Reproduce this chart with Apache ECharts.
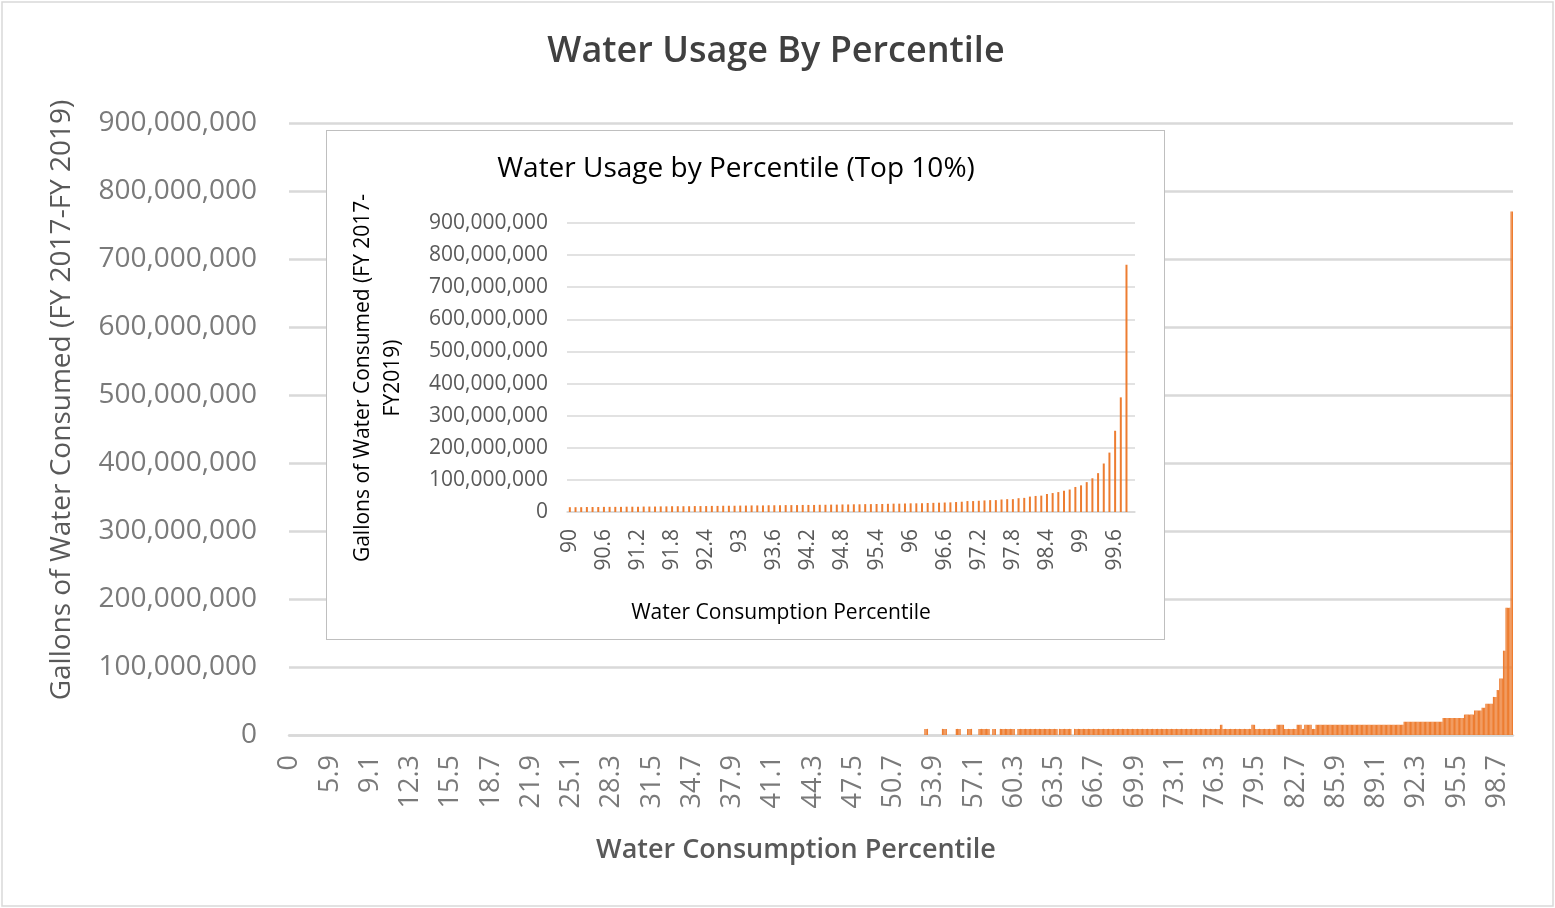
<!DOCTYPE html>
<html>
<head>
<meta charset="utf-8">
<script src="https://cdn.jsdelivr.net/npm/echarts@6/dist/echarts.min.js"></script>
<style>
  html, body { margin: 0; padding: 0; background: #fff; }
  #main { position: absolute; left: 0; top: 0; width: 1555px; height: 908px; }
  #inset { position: absolute; left: 326px; top: 130px; width: 839px; height: 510px;
           background: #fff; border: 1px solid #bfbfbf; box-sizing: border-box; }
</style>
</head>
<body>
<div id="main"></div>
<div id="inset"></div>
<script>
// ---------- DATA ----------
// Main chart categories: 0, then 2.8 ... 99.9 (step 0.1)
const mainCategories = ['0'];
for (let k = 28; k <= 999; k++) mainCategories.push(String(k / 10));

// Main chart values, millions of gallons (one per category)
const mainValuesM = [
0,0,0,0,0,0,0,0,0,0,0,0,0,0,0,0,0,0,0,0,
0,0,0,0,0,0,0,0,0,0,0,0,0,0,0,0,0,0,0,0,
0,0,0,0,0,0,0,0,0,0,0,0,0,0,0,0,0,0,0,0,
0,0,0,0,0,0,0,0,0,0,0,0,0,0,0,0,0,0,0,0,
0,0,0,0,0,0,0,0,0,0,0,0,0,0,0,0,0,0,0,0,
0,0,0,0,0,0,0,0,0,0,0,0,0,0,0,0,0,0,0,0,
0,0,0,0,0,0,0,0,0,0,0,0,0,0,0,0,0,0,0,0,
0,0,0,0,0,0,0,0,0,0,0,0,0,0,0,0,0,0,0,0,
0,0,0,0,0,0,0,0,0,0,0,0,0,0,0,0,0,0,0,0,
0,0,0,0,0,0,0,0,0,0,0,0,0,0,0,0,0,0,0,0,
0,0,0,0,0,0,0,0,0,0,0,0,0,0,0,0,0,0,0,0,
0,0,0,0,0,0,0,0,0,0,0,0,0,0,0,0,0,0,0,0,
0,0,0,0,0,0,0,0,0,0,0,0,0,0,0,0,0,0,0,0,
0,0,0,0,0,0,0,0,0,0,0,0,0,0,0,0,0,0,0,0,
0,0,0,0,0,0,0,0,0,0,0,0,0,0,0,0,0,0,0,0,
0,0,0,0,0,0,0,0,0,0,0,0,0,0,0,0,0,0,0,0,
0,0,0,0,0,0,0,0,0,0,0,0,0,0,0,0,0,0,0,0,
0,0,0,0,0,0,0,0,0,0,0,0,0,0,0,0,0,0,0,0,
0,0,0,0,0,0,0,0,0,0,0,0,0,0,0,0,0,0,0,0,
0,0,0,0,0,0,0,0,0,0,0,0,0,0,0,0,0,0,0,0,
0,0,0,0,0,0,0,0,0,0,0,0,0,0,0,0,0,0,0,0,
0,0,0,0,0,0,0,0,0,0,0,0,0,0,0,0,0,0,0,0,
0,0,0,0,0,0,0,0,0,0,0,0,0,0,0,0,0,0,0,0,
0,0,0,0,0,0,0,0,0,0,0,0,0,0,0,0,0,0,0,0,
0,0,0,0,0,0,0,0,0,0,0,0,0,0,0,0,0,0,0,0,
0,0,0,0,0,9,9,9,0,0,0,0,0,0,0,0,0,0,0,9,
9,9,9,0,0,0,0,0,0,0,9,9,9,9,0,0,0,0,0,9,
9,9,9,0,0,0,0,0,9,9,9,9,9,9,9,9,9,0,0,9,
9,9,0,0,0,9,9,9,9,9,9,9,9,9,9,9,9,0,0,9,
9,9,9,9,9,9,9,9,9,9,9,9,9,9,9,9,9,9,9,9,
9,9,9,9,9,9,9,9,9,9,9,0,9,9,9,9,9,9,9,9,
9,9,0,0,9,9,9,9,9,9,9,9,9,9,9,9,9,9,9,9,
9,9,9,9,9,9,9,9,9,9,9,9,9,9,9,9,9,9,9,9,
9,9,9,9,9,9,9,9,9,9,9,9,9,9,9,9,9,9,9,9,
9,9,9,9,9,9,9,9,9,9,9,9,9,9,9,9,9,9,9,9,
9,9,9,9,9,9,9,9,9,9,9,9,9,9,9,9,9,9,9,9,
9,9,9,9,9,9,9,9,9,9,9,9,9,9,9,9,9,9,9,9,
15,15,9,9,9,9,9,9,9,9,9,9,9,9,9,9,9,9,9,9,
9,9,9,9,9,15,15,15,9,9,9,9,9,9,9,9,9,9,9,9,
9,9,9,9,9,15,15,15,15,15,15,9,9,9,9,9,9,9,9,9,
9,15,15,15,15,9,9,15,15,15,15,15,15,9,9,9,15,15,15,15,
15,15,15,15,15,15,15,15,15,15,15,15,15,15,15,15,15,15,15,15,
15,15,15,15,15,15,15,15,15,15,15,15,15,15,15,15,15,15,15,15,
15,15,15,15,15,15,15,15,15,15,15,15,15,15,15,15,15,15,15,15,
15,15,15,15,15,15,19.5,19.5,19.5,19.5,19.5,19.5,19.5,19.5,19.5,19.5,19.5,19.5,19.5,19.5,
19.5,19.5,19.5,19.5,19.5,19.5,19.5,19.5,19.5,19.5,19.5,19.5,19.5,19.5,19.5,19.5,19.5,25,25,25,
25,25,25,25,25,25,25,25,25,25,25,25,25,25,30,30,30,30,30,30,
30,30,36,36,36,36,36,36,40,40,40,46,46,46,46,46,46,56,56,56,
66,66,83,83,83,124,124,187,187,187,187,770,770
];

// Inset categories: 90.0 ... 99.9
const insetCategories = [];
for (let k = 900; k <= 999; k++) insetCategories.push(String(k / 10));

// Inset values, millions of gallons
const insetValuesM = [
15,15,15,15.5,15.5,15.5,16,16,16,16,
16.5,16.5,16.5,17,17,17,17.5,17.5,18,18,
18,18,18.5,18.5,18.5,19,19,19.5,19.5,19.5,
20,20,20.5,20.5,20.5,21,21,21,21.5,21.5,
21.5,22,22,22,22.5,22.5,23,23,23.5,23.5,
24,24,24.5,24.5,25,25,25.5,26,26,26.5,
27,27,27.5,28,28.5,29,29.5,30,31,32,
34,34,35,36,37,37,39,40,40,43,
44,48,50,51,56,59,62,66,70,78,
83,93,105,121,151,185,253,357,770,0
];

// Y tick values (millions)
const yTicksM = { min: 0, max: 900, interval: 100 };

const mainTitle = 'Water Usage By Percentile';
const insetTitle = 'Water Usage by Percentile (Top 10%)';
const xName = 'Water Consumption Percentile';
const mainYName = 'Gallons of Water Consumed (FY 2017-FY 2019)';
const insetYName = 'Gallons of Water Consumed (FY 2017-\nFY2019)';

// ---------- RENDER ----------
const FONT = '"Open Sans", "Noto Sans", sans-serif';
const ORANGE = '#ED7D31';
const fmt = v => v === 0 ? '0' : (v * 1e6).toLocaleString('en-US');

const main = echarts.init(document.getElementById('main'), null, { renderer: 'canvas' });
main.setOption({
  animation: false,
  grid: { left: 289, right: 42, top: 123, bottom: 173, containLabel: false },
  xAxis: {
    type: 'category', data: mainCategories,
    axisLine: { show: true, lineStyle: { color: '#d9d9d9', width: 2.5 } },
    axisTick: { show: false },
    axisLabel: { interval: 31, rotate: 90, margin: 20, color: '#7a7a7a', fontSize: 27, fontFamily: FONT }
  },
  yAxis: {
    type: 'value', min: yTicksM.min, max: yTicksM.max, interval: yTicksM.interval,
    axisLine: { show: false }, axisTick: { show: false },
    splitLine: { lineStyle: { color: '#d9d9d9', width: 2.5 } },
    axisLabel: { formatter: fmt, margin: 32, color: '#7a7a7a', fontSize: 28, fontFamily: FONT }
  },
  series: [{
    type: 'bar', data: mainValuesM, barCategoryGap: '0%', barGap: '0%',
    itemStyle: { color: ORANGE }
  }],
  graphic: [
    { type: 'rect', shape: { x: 2, y: 2, width: 1551, height: 904 },
      style: { fill: 'none', stroke: '#d9d9d9', lineWidth: 1.5 }, silent: true },
    { type: 'text', x: 776, y: 52,
      style: { text: mainTitle, font: '600 36px ' + FONT, fill: '#404040', textAlign: 'center', textVerticalAlign: 'middle' } },
    { type: 'text', x: 796, y: 850,
      style: { text: xName, font: '600 27px ' + FONT, fill: '#595959', textAlign: 'center', textVerticalAlign: 'middle' } },
    { type: 'text', x: 62, y: 400, rotation: Math.PI / 2,
      style: { text: mainYName, font: '28px ' + FONT, fill: '#595959', textAlign: 'center', textVerticalAlign: 'middle' } }
  ]
});

const inset = echarts.init(document.getElementById('inset'), null, { renderer: 'canvas' });
inset.setOption({
  animation: false,
  grid: { left: 240, right: 29, top: 92, bottom: 127, containLabel: false },
  xAxis: {
    type: 'category', data: insetCategories,
    axisLine: { show: true, lineStyle: { color: '#d9d9d9', width: 1.5 } },
    axisTick: { show: false },
    axisLabel: { interval: 5, rotate: 90, margin: 17, color: '#595959', fontSize: 21, fontFamily: FONT }
  },
  yAxis: {
    type: 'value', min: yTicksM.min, max: yTicksM.max, interval: yTicksM.interval,
    axisLine: { show: false }, axisTick: { show: false },
    splitLine: { lineStyle: { color: '#d9d9d9', width: 1.5 } },
    axisLabel: { formatter: fmt, margin: 19, color: '#595959', fontSize: 21, fontFamily: FONT }
  },
  series: [{
    type: 'bar', data: insetValuesM, barWidth: 2,
    itemStyle: { color: ORANGE }
  }],
  graphic: [
    { type: 'text', x: 409, y: 38,
      style: { text: insetTitle, font: '28px ' + FONT, fill: '#000000', textAlign: 'center', textVerticalAlign: 'middle' } },
    { type: 'text', x: 454, y: 482,
      style: { text: xName, font: '21px ' + FONT, fill: '#000000', textAlign: 'center', textVerticalAlign: 'middle' } },
    { type: 'text', x: 51, y: 247, rotation: Math.PI / 2,
      style: { text: insetYName, font: '21px ' + FONT, fill: '#000000', textAlign: 'center', textVerticalAlign: 'middle', lineHeight: 30 } }
  ]
});
</script>
</body>
</html>
